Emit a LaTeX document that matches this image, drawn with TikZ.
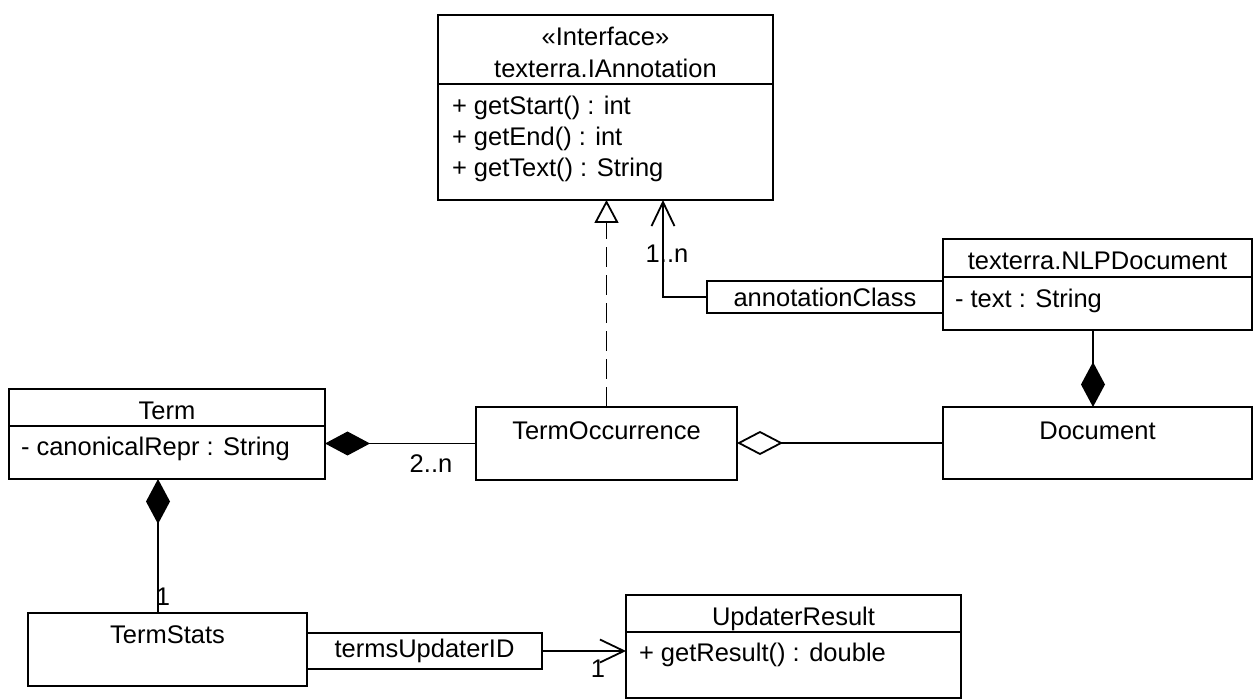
\documentclass[tikz,border=0pt]{standalone}
\usepackage{fontspec}
\setmainfont{Liberation Sans}
\usetikzlibrary{arrows.meta}
\begin{document}
\begin{tikzpicture}[x=0.5pt, y=-0.5pt,
  every node/.style={font=\fontsize{12.75pt}{15pt}\selectfont, inner sep=0pt, outer sep=0pt},
  box/.style={draw, line width=0.9pt, rectangle},
  sep/.style={line width=0.9pt},
  link/.style={line width=0.9pt},
  realize/.style={link, dash pattern=on 10pt off 4pt,
    -{Triangle[open, length=11.5pt, width=12pt]}},
  nav/.style={link, -{Straight Barb[length=12pt, width=11.5pt]}},
  compo/.style={link, -{Diamond[length=22.5pt, width=12pt]}},
  aggr/.style={link, -{Diamond[open, length=23pt, width=12pt]}}]
\useasboundingbox (0,0) rectangle (1254,700);

% interface texterra.IAnnotation
\node[box, minimum width=167.5pt, minimum height=92.5pt] (iann) at (605.5,107.5) {};
\draw[sep] (iann.north west) ++(0,69) -- +(335,0);
\node[anchor=base] (iann-stereo) at (605.5,46) {«Interface»};
\node[anchor=base] (iann-name) at (605.5,78) {texterra.IAnnotation};
\node[anchor=base west] (iann-m1) at (452,115) {+ getStart() : int};
\node[anchor=base west] (iann-m2) at (452,146) {+ getEnd() : int};
\node[anchor=base west] (iann-m3) at (452,177) {+ getText() : String};

% class texterra.NLPDocument with its qualifier
\node[box, minimum width=154.5pt, minimum height=45.5pt] (nlp) at (1097.5,284.5) {};
\draw[sep] (nlp.north west) ++(0,38) -- +(309,0);
\node[anchor=base] (nlp-name) at (1097.5,270) {texterra.NLPDocument};
\node[anchor=base west] (nlp-a1) at (955,308) {- text : String};
\node[box, minimum width=118pt, minimum height=16pt] (qual) at (825,297) {annotationClass};

% class Document
\node[box, minimum width=154.5pt, minimum height=36pt] (doc) at (1097.5,443) {};
\node[anchor=base] (doc-name) at (1097.5,439) {Document};

% class TermOccurrence
\node[box, minimum width=130.5pt, minimum height=36.5pt] (occ) at (606.5,443.5) {};
\node[anchor=base] (occ-name) at (606.5,439) {TermOccurrence};

% class Term
\node[box, minimum width=158pt, minimum height=45pt] (term) at (167,434) {};
\draw[sep] (term.north west) ++(0,37) -- +(316,0);
\node[anchor=base] (term-name) at (167,420) {Term};
\node[anchor=base west] (term-a1) at (21,455) {- canonicalRepr : String};

% class TermStats with its qualifier
\node[box, minimum width=139.5pt, minimum height=36.5pt] (stats) at (167.5,649.5) {};
\node[anchor=base] (stats-name) at (167.5,643) {TermStats};
\node[box, minimum width=117.5pt, minimum height=18pt] (updq) at (424.5,651) {termsUpdaterID};

% class UpdaterResult
\node[box, minimum width=167.5pt, minimum height=51.5pt] (res) at (793.5,646.5) {};
\draw[sep] (res.north west) ++(0,37) -- +(335,0);
\node[anchor=base] (res-name) at (793.5,625) {UpdaterResult};
\node[anchor=base west] (res-m1) at (639,661) {+ getResult() : double};

% relations
\draw[realize] (occ.north) -- (occ.north |- iann.south);
\draw[nav] (qual.west) -| ([xshift=28.75pt]iann.south);
\node[anchor=base] (m-ann) at (667,263) {1..n};
\draw[compo] ([xshift=-2.25pt]nlp.south) -- ([xshift=-2.25pt]doc.north);
\draw[compo] (occ.west) -- (occ.west -| term.east);
\node[anchor=base] (m-occ) at (431,473) {2..n};
\draw[aggr] (doc.west) -- (doc.west -| occ.east);
\draw[compo] ([xshift=-4.75pt]stats.north) -- ([xshift=-4.75pt]stats.north |- term.south);
\node[anchor=base] (m-stats) at (163,605) {1};
\draw[nav] (updq.east) -- (updq.east -| res.west);
\node[anchor=base] (m-res) at (598,677) {1};
\end{tikzpicture}
\end{document}
